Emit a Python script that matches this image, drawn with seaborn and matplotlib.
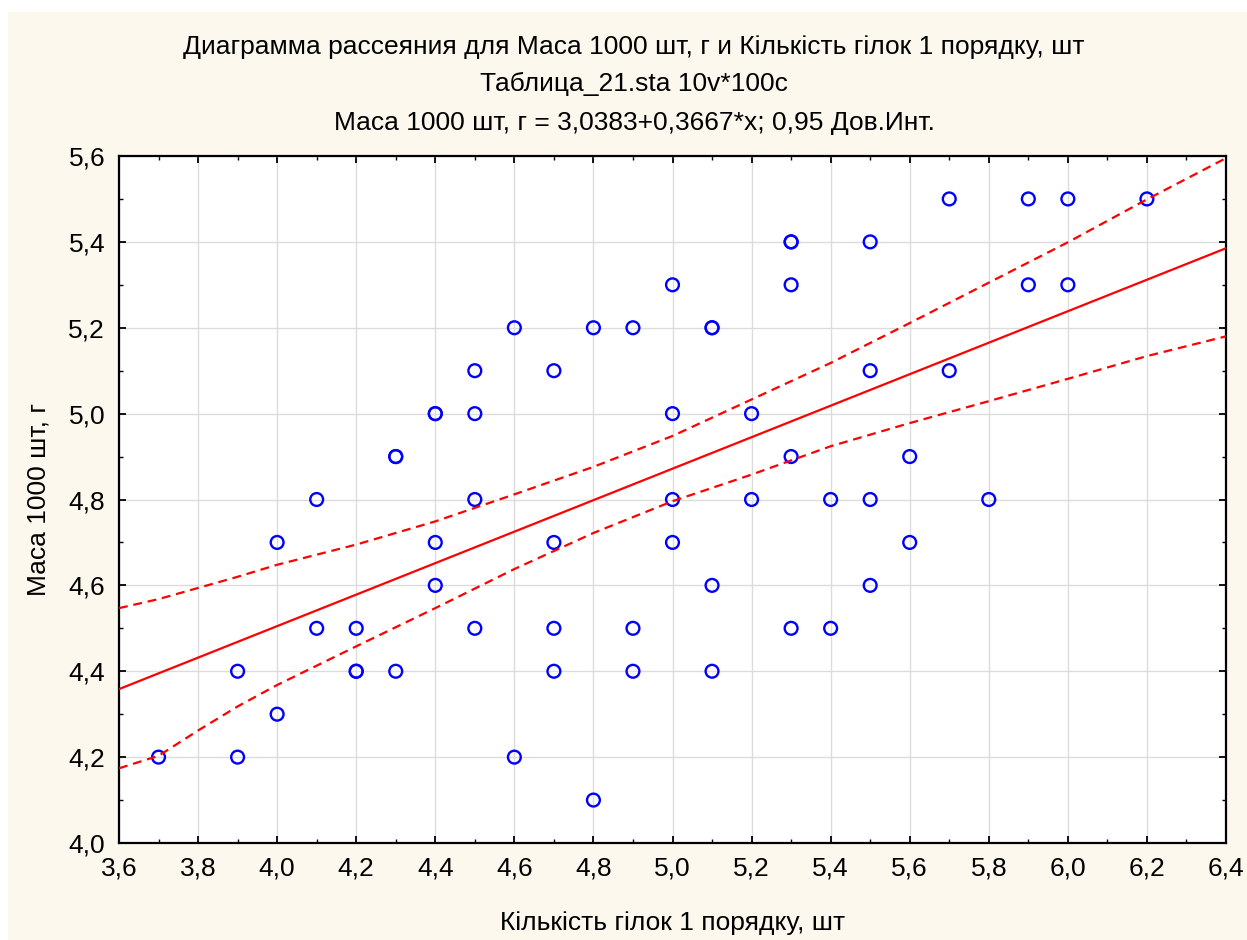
import matplotlib
matplotlib.use("Agg")
import matplotlib.pyplot as plt
from matplotlib.patches import Rectangle
from matplotlib.ticker import MultipleLocator
import numpy as np
import pandas as pd
import seaborn as sns

# ---------------- data ----------------
branches = [3.7, 3.9, 3.9, 4.0, 4.0, 4.1, 4.1, 4.2, 4.2, 4.2,
            4.3, 4.3, 4.3, 4.4, 4.4, 4.4, 4.4, 4.5, 4.5, 4.5, 4.5,
            4.6, 4.6, 4.7, 4.7, 4.7, 4.7, 4.8, 4.8, 4.9, 4.9, 4.9,
            5.0, 5.0, 5.0, 5.0, 5.1, 5.1, 5.1, 5.1, 5.2, 5.2,
            5.3, 5.3, 5.3, 5.3, 5.3, 5.4, 5.4, 5.5, 5.5, 5.5, 5.5,
            5.6, 5.6, 5.7, 5.7, 5.8, 5.9, 5.9, 6.0, 6.0, 6.2]
mass = [4.2, 4.4, 4.2, 4.7, 4.3, 4.8, 4.5, 4.5, 4.4, 4.4,
        4.9, 4.9, 4.4, 5.0, 5.0, 4.7, 4.6, 5.1, 5.0, 4.8, 4.5,
        5.2, 4.2, 5.1, 4.7, 4.5, 4.4, 5.2, 4.1, 5.2, 4.5, 4.4,
        5.3, 5.0, 4.8, 4.7, 5.2, 5.2, 4.6, 4.4, 5.0, 4.8,
        5.4, 5.4, 5.3, 4.9, 4.5, 4.8, 4.5, 5.4, 5.1, 4.8, 4.6,
        4.9, 4.7, 5.5, 5.1, 4.8, 5.5, 5.3, 5.5, 5.3, 5.5]

intercept = 3.0383
slope = 0.3667

ci_x = [3.6, 3.7, 3.8, 3.9, 4.0, 4.2, 4.4, 4.6, 4.8, 5.0, 5.2, 5.4, 5.6, 5.8, 6.0, 6.2, 6.4]
ci_upper = [4.547, 4.568, 4.594, 4.620, 4.648, 4.695, 4.749, 4.812, 4.876, 4.948,
            5.033, 5.118, 5.211, 5.305, 5.399, 5.499, 5.595]
ci_lower = [4.174, 4.203, 4.262, 4.318, 4.368, 4.458, 4.547, 4.638, 4.722, 4.796,
            4.858, 4.924, 4.978, 5.029, 5.081, 5.134, 5.180]

x_ticks = [3.6, 3.8, 4.0, 4.2, 4.4, 4.6, 4.8, 5.0, 5.2, 5.4, 5.6, 5.8, 6.0, 6.2, 6.4]
y_ticks = [4.0, 4.2, 4.4, 4.6, 4.8, 5.0, 5.2, 5.4, 5.6]

title_lines = [
    "Диаграмма рассеяния для Маса 1000 шт, г и Кількість гілок 1 порядку, шт",
    "Таблица_21.sta 10v*100c",
    "Маса 1000 шт, г = 3,0383+0,3667*x; 0,95 Дов.Инт.",
]
x_label = "Кількість гілок 1 порядку, шт"
y_label = "Маса 1000 шт, г"

# ---------------- style ----------------
sns.set_theme(style="white")
plt.rcParams["font.family"] = ["Liberation Sans", "DejaVu Sans"]
plt.rcParams["text.color"] = "black"
plt.rcParams["axes.labelcolor"] = "black"
plt.rcParams["xtick.color"] = "black"
plt.rcParams["ytick.color"] = "black"

W, H = 1247, 940
fig = plt.figure(figsize=(W / 100, H / 100), dpi=100, facecolor="white")
bg = Rectangle((8 / W, 0), 1 - 8 / W, 1 - 12 / H,
               transform=fig.transFigure, facecolor="#FDF8EE",
               edgecolor="none", zorder=-10)
fig.patches.append(bg)

left, right, top, bottom = 119, 1226, 156, 843
ax = fig.add_axes([left / W, (H - bottom) / H, (right - left) / W, (bottom - top) / H])
ax.set_zorder(1)
ax.set_facecolor("white")

df = pd.DataFrame({"x": branches, "y": mass})
sns.scatterplot(data=df, x="x", y="y", ax=ax, marker="o", s=85,
                facecolor="none", edgecolor="#0000FF", linewidth=1.7, zorder=3)

fit_x = np.array([x_ticks[0], x_ticks[-1]])
fit_y = intercept + slope * fit_x
sns.lineplot(x=fit_x, y=fit_y, ax=ax, color="#FF0000", linewidth=1.6, zorder=4)
sns.lineplot(x=ci_x, y=ci_upper, ax=ax, color="#FF0000", linewidth=1.6,
             linestyle=(0, (4.0, 2.6)), zorder=4)
sns.lineplot(x=ci_x, y=ci_lower, ax=ax, color="#FF0000", linewidth=1.6,
             linestyle=(0, (4.0, 2.6)), zorder=4)

ax.set_xlim(x_ticks[0], x_ticks[-1])
ax.set_ylim(y_ticks[0], y_ticks[-1])
ax.set_xticks(x_ticks)
ax.set_yticks(y_ticks)
ax.set_xticklabels([f"{v:.1f}".replace(".", ",") for v in x_ticks])
ax.set_yticklabels([f"{v:.1f}".replace(".", ",") for v in y_ticks])
ax.xaxis.set_minor_locator(MultipleLocator(0.1))
ax.yaxis.set_minor_locator(MultipleLocator(0.1))
ax.grid(True, which="major", color="#DCDCDC", linewidth=1.0, zorder=0)
ax.set_axisbelow(True)

for s in ax.spines.values():
    s.set_visible(True)
    s.set_color("black")
    s.set_linewidth(1.6)

ax.tick_params(which="both", direction="in", top=True, right=True,
               bottom=True, left=True, labelsize=19)
ax.tick_params(which="major", length=5, width=1.3, pad=10)
ax.tick_params(which="minor", length=3, width=1.0)

ax.set_xlabel(x_label, fontsize=19, labelpad=22)
ax.set_ylabel(y_label, fontsize=19, labelpad=13)

for txt, yc in zip(title_lines, [47, 84, 123]):
    fig.text(634 / W, 1 - yc / H, txt, ha="center", va="center", fontsize=19)

fig.savefig("out.png", dpi=100, facecolor="white")
